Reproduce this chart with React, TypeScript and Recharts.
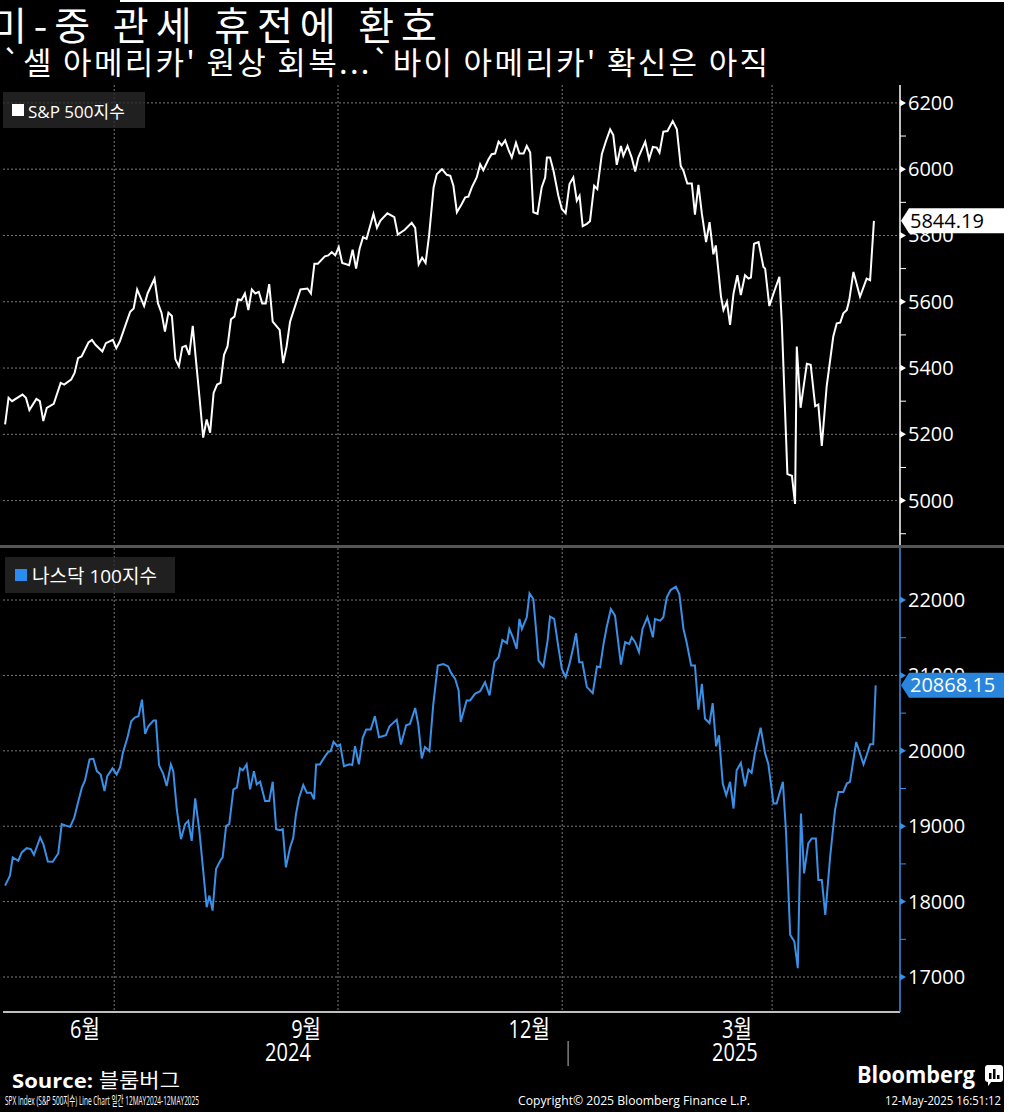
import React from 'react';
import { LineChart, Line, XAxis, YAxis, CartesianGrid } from 'recharts';

const TITLE = '미-중 관세 휴전에 환호';
const SUBTITLE = "`셀 아메리카' 원상 회복...`바이 아메리카' 확신은 아직";
const SPX_NAME = 'S&P 500지수';
const NDX_NAME = '나스닥 100지수';

// [trading day, index level]
const spxSeries: [number, number][] = [
  [0, 5230], [1, 5310], [2, 5300], [5, 5320], [6, 5310], [7, 5273], [9, 5307], [10, 5300], [11, 5240], [12, 5280],
  [14, 5292], [16, 5355], [17, 5350], [19, 5365], [20, 5385], [21, 5430], [22, 5435], [24, 5477], [25, 5485], [26, 5470],
  [28, 5450], [29, 5475], [31, 5485], [32, 5460], [33, 5480], [35, 5540], [36, 5570], [37, 5580], [38, 5637], [40, 5587],
  [41, 5625], [43, 5670], [44, 5595], [45, 5567], [46, 5510], [47, 5567], [48, 5557], [49, 5427], [50, 5405], [51, 5463],
  [52, 5467], [53, 5440], [54, 5527], [55, 5415], [56, 5305], [57, 5190], [58, 5245], [59, 5205], [60, 5325], [61, 5350],
  [62, 5355], [63, 5440], [64, 5465], [65, 5547], [66, 5555], [67, 5607], [68, 5605], [69, 5625], [70, 5575], [71, 5637],
  [72, 5625], [73, 5630], [74, 5595], [75, 5595], [76, 5653], [77, 5540], [79, 5515], [80, 5415], [81, 5465], [82, 5540],
  [84, 5605], [85, 5637], [87, 5640], [88, 5625], [89, 5715], [90, 5715], [92, 5737], [93, 5740], [94, 5750], [95, 5740],
  [96, 5765], [97, 5717], [99, 5710], [100, 5757], [101, 5700], [102, 5760], [103, 5795], [104, 5790], [106, 5865], [107, 5823],
  [108, 5845], [110, 5867], [112, 5855], [113, 5803], [115, 5817], [117, 5838], [118, 5823], [119, 5713], [120, 5733], [121, 5717],
  [122, 5800], [123.3, 5945], [124.2, 5985], [125.7, 6000], [127.1, 5983], [128.1, 5980], [129, 5950], [130, 5870], [131.4, 5895], [132.4, 5915],
  [133.3, 5917], [134.3, 5945], [135.7, 5975], [136.7, 6015], [137.6, 5997], [139.1, 6030], [140, 6045], [141, 6047], [142, 6083], [142.9, 6072],
  [143.9, 6087], [144.8, 6060], [145.8, 6035], [147, 6080], [148, 6047], [149.2, 6047], [150.1, 6070], [151.1, 6050], [152, 5870], [153.2, 5865],
  [154.4, 5945], [155.4, 5975], [155.9, 6035], [156.8, 6035], [157.8, 5995], [159.2, 5920], [160.2, 5880], [161.3, 5867], [162.4, 5955], [163.5, 5975],
  [164.5, 5905], [165.3, 5920], [166.2, 5828], [167.4, 5835], [168.3, 5843], [169.5, 5950], [170.4, 5940], [171.7, 6045], [172.9, 6085], [174.1, 6120],
  [175, 6103], [176, 6013], [177.2, 6070], [177.9, 6040], [179.1, 6070], [180.3, 6035], [181.3, 5993], [182.2, 6035], [184.2, 6083], [185.3, 6030],
  [186.4, 6067], [187.5, 6065], [188.3, 6050], [189.4, 6113], [190.6, 6115], [192.1, 6145], [193.3, 6120], [194.4, 6010], [195.2, 5995], [196.3, 5957],
  [197.6, 5957], [198.5, 5863], [199.5, 5953], [200.5, 5865], [201.7, 5780], [202.7, 5840], [203.8, 5743], [204.5, 5770], [206, 5615], [206.7, 5575],
  [207.7, 5600], [208.6, 5530], [209.6, 5625], [210.7, 5680], [211.7, 5620], [212.9, 5680], [213.9, 5670], [214.6, 5673], [215.5, 5775], [216.8, 5780],
  [218.2, 5705], [218.7, 5700], [219.9, 5587], [221.1, 5625], [222.8, 5675], [223.5, 5535], [225.1, 5080], [226.4, 5075], [227.3, 4990], [227.8, 5465],
  [228.9, 5280], [230.7, 5413], [231.8, 5410], [233.1, 5285], [234, 5290], [235, 5165], [236.4, 5345], [238.3, 5495], [239.3, 5535], [240.3, 5537],
  [241.2, 5565], [242.2, 5575], [242.9, 5605], [244.1, 5690], [246, 5615], [247.9, 5670], [248.9, 5665], [250, 5844.19],
];

const ndxSeries: [number, number][] = [
  [0, 18212], [1.4, 18344], [2.2, 18586], [3.8, 18542], [4.8, 18652], [6.2, 18709], [7.4, 18696], [8.3, 18621], [10.1, 18850], [11, 18762],
  [12.3, 18533], [13.7, 18529], [15.3, 18639], [16.3, 19027], [17.7, 19005], [18.7, 18991], [19.9, 19115], [21.1, 19335], [22.1, 19511], [23, 19608],
  [24.3, 19886], [25.4, 19894], [26.4, 19731], [27.5, 19687], [28.6, 19467], [29.4, 19665], [30.9, 19767], [32.1, 19687], [33.1, 19784], [33.9, 19974],
  [35.2, 20172], [36.3, 20392], [37.4, 20445], [38.4, 20458], [39.4, 20678], [40.3, 20225], [41.2, 20326], [42.7, 20401], [43.4, 20401], [44.3, 19811],
  [45.5, 19696], [46.5, 19533], [47.7, 19820], [48.4, 19731], [49.4, 19225], [50.6, 18828], [51.8, 19027], [52.7, 19071], [53.7, 18806], [54.7, 19370],
  [55.9, 18939], [57.1, 18366], [58, 17925], [58.8, 18080], [59.7, 17881], [60.7, 18432], [61.9, 18542], [62.6, 18586], [63.6, 19005], [64.5, 19027],
  [65.7, 19489], [66.7, 19511], [67.6, 19767], [68.4, 19740], [69.5, 19820], [70.5, 19489], [71.6, 19731], [72.4, 19555], [73.4, 19590], [74.8, 19335],
  [76, 19335], [77, 19590], [78, 18961], [79.1, 18947], [79.9, 18961], [80.8, 18454], [82, 18718], [82.9, 18842], [83.7, 19159], [84.6, 19379],
  [85.8, 19546], [86.8, 19445], [88, 19445], [88.9, 19357], [89.5, 19820], [90.6, 19820], [92.1, 19930], [93, 19987], [93.7, 19996], [94.5, 20119],
  [95.6, 20062], [96.4, 20084], [97.5, 19797], [99.1, 19820], [99.9, 19811], [100.7, 20062], [101.8, 19820], [102.9, 20172], [103.9, 20282], [105.2, 20282],
  [106.4, 20458], [107.6, 20181], [109.6, 20207], [110.6, 20326], [112.7, 20414], [113.9, 20084], [115.4, 20339], [116.5, 20357], [118, 20568], [118.9, 20348],
  [119.9, 19899], [120.8, 20049], [122.1, 19996], [123.2, 20612], [124.5, 21132], [126.1, 21150], [127.5, 21119], [128.2, 21043], [129.5, 20955], [130.5, 20800],
  [131.1, 20382], [132.8, 20668], [133.8, 20668], [135.2, 20756], [136.7, 20791], [138.1, 20911], [139.4, 20734], [140.8, 21175], [142, 21241], [143.1, 21471],
  [144.4, 21427], [145.1, 21616], [146.1, 21506], [147.2, 21352], [148, 21749], [148.7, 21616], [150.1, 21771], [150.9, 22088], [152, 22013], [152.8, 21594],
  [153.5, 21197], [154.9, 21118], [156.1, 21462], [156.8, 21780], [158, 21749], [159.2, 21374], [160.2, 21087], [161.3, 20977], [162.4, 21153], [163.5, 21374],
  [164.3, 21559], [165.2, 21175], [166.1, 21175], [167.4, 20845], [169.1, 20765], [170.3, 21118], [171.2, 21109], [172.2, 21418], [173.1, 21638], [174.3, 21881],
  [175.5, 21793], [177.2, 21144], [178.4, 21440], [179.6, 21418], [180.3, 21506], [181.3, 21440], [182.4, 21308], [183.4, 21616], [184.8, 21771], [185.4, 21682],
  [186.4, 21506], [187, 21749], [188.5, 21727], [189.4, 21771], [190.4, 22035], [191.5, 22132], [193, 22176], [194, 22079], [195.2, 21616], [196.1, 21440],
  [197.4, 21131], [198.5, 21131], [199.5, 20545], [200.5, 20889], [201.4, 20426], [202.7, 20368], [203.6, 20633], [204.6, 20060], [205.4, 20205], [206.5, 19566],
  [207.5, 19411], [208.6, 19588], [209.6, 19235], [210.5, 19742], [211.7, 19839], [212.9, 19530], [213.9, 19751], [214.8, 19707], [215.8, 19985], [217.4, 20307],
  [218.7, 19963], [219.6, 19830], [221.1, 19301], [222, 19301], [223.8, 19588], [224.7, 18926], [225.9, 17559], [227.1, 17471], [228.1, 17118], [229, 19169],
  [229.9, 18375], [231.1, 18772], [232.1, 18838], [233.3, 18838], [234, 18287], [235, 18287], [236, 17824], [237.4, 18595], [238.8, 19213], [239.8, 19455],
  [241.2, 19455], [242.2, 19566], [243.1, 19588], [244.9, 20117], [247, 19821], [247.9, 19941], [248.9, 20086], [249.8, 20086], [250.5, 20868.15],
];

const spxMajorTicks = [5000, 5200, 5400, 5600, 5800, 6000, 6200];
const spxMinorTicks = [4900, 5100, 5300, 5500, 5700, 5900, 6100];
const ndxMajorTicks = [17000, 18000, 19000, 20000, 21000, 22000];
const ndxMinorTicks = [17500, 18500, 19500, 20500, 21500];
const spxLast = 5844.19;
const ndxLast = 20868.15;

const quarterGridDay = [31.4, 95.8, 160.3, 220.7];
const monthTickDay = [23.0, 86.6, 150.8, 210.6];
const monthTickLabel = ['6월', '9월', '12월', '3월'];
const yearTickDay = [81.4, 210.0];
const yearTickLabel = ['2024', '2025'];
const yearBreakDay = [162.0];

const spxDomain: [number, number] = [4860, 6254];
const ndxDomain: [number, number] = [16536, 22690];
const dayDomain: [number, number] = [-0.6, 257.5];

const spxData = spxSeries.map(([day, v]) => ({ day, v }));
const ndxData = ndxSeries.map(([day, v]) => ({ day, v }));

const FONT_UI = '"Open Sans", "Noto Sans CJK KR", sans-serif';
const FONT_KR = '"Noto Sans CJK KR", "Noto Sans", sans-serif';
const BLUE = '#3a8fe6';
const BLUE_BOX = '#2a86dc';
const GRID = '#7a7a7a';

const makeYTick = (major: number[], last: number, axisColor: string, boxFill: string, boxText: string) => (props: any) => {
  const { x, y, payload } = props;
  const v = payload.value;
  if (v === last) {
    return (
      <g>
        <polygon
          points={`${x + 1},${y} ${x + 9},${y - 12.5} ${x + 106},${y - 12.5} ${x + 106},${y + 12.5} ${x + 9},${y + 12.5}`}
          fill={boxFill}
        />
        <text x={x + 10} y={y + 7} fill={boxText} fontSize={20} fontFamily={FONT_UI}>
          {v.toFixed(2)}
        </text>
      </g>
    );
  }
  if (major.includes(v)) {
    return (
      <g>
        <polygon points={`${x},${y - 3.5} ${x + 6},${y} ${x},${y + 3.5}`} fill={axisColor} />
        <text x={x + 8} y={y + 7} fill="#ffffff" fontSize={20} fontFamily={FONT_UI}>
          {v}
        </text>
      </g>
    );
  }
  return <line x1={x} y1={y} x2={x + 6} y2={y} stroke={axisColor} strokeWidth={1} />;
};

const SpxTick = makeYTick(spxMajorTicks, spxLast, '#ffffff', '#ffffff', '#000000');
const NdxTick = makeYTick(ndxMajorTicks, ndxLast, BLUE, BLUE_BOX, '#ffffff');

const XTick = (props: any) => {
  const { x, y, payload } = props;
  const v = payload.value;
  const mi = monthTickDay.indexOf(v);
  if (mi >= 0) {
    return (
      <text transform={`translate(${x},${y + 26}) scale(0.8,1)`} textAnchor="middle" fill="#ffffff" fontSize={25} fontFamily={FONT_UI}>
        {monthTickLabel[mi]}
      </text>
    );
  }
  const yi = yearTickDay.indexOf(v);
  if (yi >= 0) {
    return (
      <text transform={`translate(${x},${y + 49}) scale(0.8,1)`} textAnchor="middle" fill="#ffffff" fontSize={25} fontFamily={FONT_UI}>
        {yearTickLabel[yi]}
      </text>
    );
  }
  if (yearBreakDay.includes(v)) {
    return <line x1={x} x2={x} y1={y + 29} y2={y + 54} stroke="#bbbbbb" strokeWidth={1} />;
  }
  return null;
};

const xTicks = [...monthTickDay, ...yearTickDay, ...yearBreakDay].sort((a, b) => a - b);

export default function App() {
  return (
    <div
      style={{
        position: 'absolute',
        left: 0,
        top: 0,
        width: 1009,
        height: 1112,
        background: '#000000',
        overflow: 'hidden',
      }}
    >
      {/* top panel: S&P 500 */}
      <div style={{ position: 'absolute', left: 0, top: 85 }}>
        <LineChart width={1009} height={462} data={spxData} margin={{ top: 0, right: 3, bottom: 0, left: 3 }}>
          <CartesianGrid
            stroke={GRID}
            strokeDasharray="2 2"
            horizontalValues={spxMajorTicks}
            verticalValues={quarterGridDay}
          />
          <XAxis dataKey="day" type="number" domain={dayDomain} hide allowDataOverflow />
          <YAxis
            orientation="right"
            width={106}
            domain={spxDomain}
            allowDataOverflow
            ticks={[...spxMinorTicks, ...spxMajorTicks, spxLast]}
            interval={0}
            tickLine={false}
            tickSize={0}
            tickMargin={0}
            axisLine={{ stroke: '#ffffff', strokeWidth: 1.5 }}
            tick={SpxTick}
          />
          <Line dataKey="v" type="linear" stroke="#ffffff" strokeWidth={2} dot={false} isAnimationActive={false} />
        </LineChart>
      </div>

      {/* bottom panel: Nasdaq 100 */}
      <div style={{ position: 'absolute', left: 0, top: 548 }}>
        <LineChart width={1009} height={524} data={ndxData} margin={{ top: 0, right: 3, bottom: 0, left: 3 }}>
          <CartesianGrid
            stroke={GRID}
            strokeDasharray="2 2"
            horizontalValues={ndxMajorTicks}
            verticalValues={quarterGridDay}
          />
          <XAxis
            dataKey="day"
            type="number"
            domain={dayDomain}
            allowDataOverflow
            height={60}
            ticks={xTicks}
            interval={0}
            tickLine={false}
            tickSize={0}
            tickMargin={0}
            axisLine={{ stroke: '#ffffff', strokeWidth: 1.5 }}
            tick={XTick}
          />
          <YAxis
            orientation="right"
            width={106}
            domain={ndxDomain}
            allowDataOverflow
            ticks={[...ndxMinorTicks, ...ndxMajorTicks, ndxLast]}
            interval={0}
            tickLine={false}
            tickSize={0}
            tickMargin={0}
            axisLine={{ stroke: BLUE, strokeWidth: 1.5 }}
            tick={NdxTick}
          />
          <Line dataKey="v" type="linear" stroke={BLUE} strokeWidth={2} dot={false} isAnimationActive={false} />
        </LineChart>
      </div>

      {/* panel separator */}
      <div style={{ position: 'absolute', left: 0, top: 545, width: 1009, height: 3, background: '#555555' }} />

      {/* legends */}
      <div
        style={{
          position: 'absolute',
          left: 3,
          top: 92,
          width: 142,
          height: 36,
          background: 'rgba(40,40,40,0.8)',
          display: 'flex',
          alignItems: 'center',
          fontFamily: FONT_UI,
          fontSize: 17,
          color: '#ffffff',
          whiteSpace: 'nowrap',
        }}
      >
        <span style={{ display: 'inline-block', width: 12, height: 12, background: '#ffffff', marginLeft: 9, marginRight: 4 }} />
        {SPX_NAME}
      </div>
      <div
        style={{
          position: 'absolute',
          left: 5,
          top: 557,
          width: 170,
          height: 36,
          background: 'rgba(40,40,40,0.8)',
          display: 'flex',
          alignItems: 'center',
          fontFamily: FONT_UI,
          fontSize: 19,
          color: '#ffffff',
          whiteSpace: 'nowrap',
        }}
      >
        <span style={{ display: 'inline-block', width: 12, height: 12, background: '#2a8cf0', marginLeft: 10, marginRight: 5 }} />
        {NDX_NAME}
      </div>

      {/* titles & footer */}
      <svg width={1009} height={1112} style={{ position: 'absolute', left: 0, top: 0, pointerEvents: 'none' }}>
        <text x={-9} y={40} fill="#ffffff" fontSize={39} fontFamily={FONT_KR} textLength={446} lengthAdjust="spacing">
          {TITLE}
        </text>
        <text x={2} y={74} fill="#ffffff" fontSize={31} fontFamily={FONT_KR} textLength={766} lengthAdjust="spacing">
          {SUBTITLE}
        </text>

        <text x={12} y={1088} fill="#ffffff" fontSize={20} fontFamily={FONT_UI} textLength={168} lengthAdjust="spacingAndGlyphs">
          <tspan fontWeight={700}>Source:</tspan>
          <tspan> 블룸버그</tspan>
        </text>
        <text x={5} y={1105} fill="#ffffff" fontSize={13} fontFamily={FONT_UI} textLength={194} lengthAdjust="spacingAndGlyphs">
          SPX Index (S&amp;P 500지수) Line Chart 일간 12MAY2024-12MAY2025
        </text>
        <text x={518} y={1105} fill="#ffffff" fontSize={13} fontFamily={FONT_UI} textLength={232} lengthAdjust="spacingAndGlyphs">
          Copyright© 2025 Bloomberg Finance L.P.
        </text>
        <text x={885} y={1105} fill="#ffffff" fontSize={13} fontFamily={FONT_UI} textLength={116} lengthAdjust="spacingAndGlyphs">
          12-May-2025 16:51:12
        </text>
        <text x={857} y={1083} fill="#ffffff" fontSize={23} fontWeight={700} fontFamily={FONT_UI} textLength={118} lengthAdjust="spacingAndGlyphs">
          Bloomberg
        </text>
        <g>
          <rect x={985} y={1065} width={18} height={17} rx={3} fill="#ffffff" />
          <polygon points="988,1081 992,1081 988,1086" fill="#ffffff" />
          <rect x={989} y={1073} width={2.5} height={6} fill="#000000" />
          <rect x={993} y={1069} width={2.5} height={10} fill="#000000" />
          <rect x={997} y={1075} width={2.5} height={4} fill="#000000" />
        </g>
      </svg>

      {/* light edges of the original capture */}
      <div style={{ position: 'absolute', left: 1004, top: 0, width: 5, height: 1112, background: '#ffffff' }} />
      <div style={{ position: 'absolute', left: 120, top: 0, width: 889, height: 2, background: '#ffffff' }} />
    </div>
  );
}
